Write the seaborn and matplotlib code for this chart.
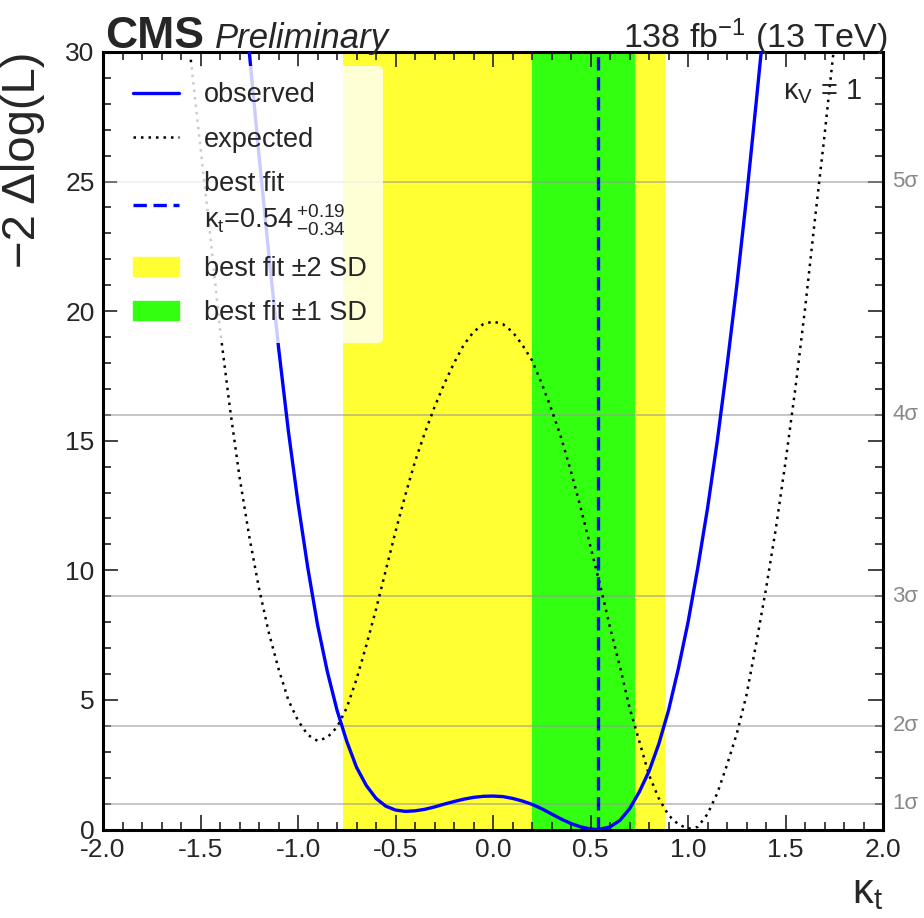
import numpy as np
import pandas as pd
import seaborn as sns
import matplotlib
matplotlib.use("Agg")
import matplotlib.pyplot as plt
from matplotlib.ticker import MultipleLocator, FormatStrFormatter
from matplotlib.lines import Line2D
from matplotlib.patches import Patch

# observed scan
kt_obs = [-1.25, -1.2, -1.15, -1.1, -1.05, -1.0, -0.95, -0.9, -0.85, -0.8,
          -0.75, -0.7, -0.65, -0.6, -0.55, -0.5, -0.45, -0.4, -0.35, -0.3,
          -0.25, -0.2, -0.15, -0.1, -0.05, 0.0, 0.05, 0.1, 0.15, 0.2,
          0.25, 0.3, 0.35, 0.4, 0.45, 0.5, 0.54, 0.6, 0.65, 0.7,
          0.75, 0.8, 0.85, 0.9, 0.95, 1.0, 1.05, 1.1, 1.15, 1.2,
          1.25, 1.3, 1.35, 1.375]
nll_obs = [30.0, 26.0, 22.2, 18.6, 15.4, 12.6, 10.1, 7.9, 6.1, 4.6,
           3.4, 2.4, 1.7, 1.2, 0.9, 0.75, 0.70, 0.72, 0.78, 0.87,
           0.98, 1.08, 1.17, 1.24, 1.28, 1.29, 1.27, 1.2, 1.1, 0.97,
           0.8, 0.6, 0.4, 0.23, 0.1, 0.02, 0.0, 0.1, 0.35, 0.8,
           1.45, 2.25, 3.3, 4.6, 6.2, 8.0, 10.1, 12.4, 15.0, 17.9,
           21.0, 24.4, 28.1, 30.0]

# expected scan
kt_exp = [-1.55, -1.5, -1.45, -1.4, -1.35, -1.3, -1.25, -1.2, -1.15, -1.1,
          -1.05, -1.0, -0.95, -0.9, -0.85, -0.8, -0.75, -0.7, -0.65, -0.6,
          -0.55, -0.5, -0.45, -0.4, -0.35, -0.3, -0.25, -0.2, -0.15, -0.1,
          -0.05, 0.0, 0.05, 0.1, 0.15, 0.2, 0.25, 0.3, 0.35, 0.4,
          0.45, 0.5, 0.55, 0.6, 0.65, 0.7, 0.75, 0.8, 0.85, 0.9,
          0.95, 1.0, 1.05, 1.1, 1.15, 1.2, 1.25, 1.3, 1.35, 1.4,
          1.45, 1.5, 1.55, 1.6, 1.65, 1.7, 1.75]
nll_exp = [29.7, 26.3, 22.9, 19.3, 16.3, 13.6, 11.3, 9.3, 7.6, 6.2,
           5.0, 4.2, 3.65, 3.42, 3.55, 3.95, 4.7, 5.8, 7.1, 8.5,
           10.0, 11.5, 12.9, 14.2, 15.3, 16.3, 17.2, 18.0, 18.7, 19.2,
           19.5, 19.6, 19.5, 19.2, 18.7, 18.1, 17.2, 16.2, 15.1, 13.8,
           12.4, 10.9, 9.4, 7.8, 6.3, 4.7, 3.4, 2.1, 1.2, 0.55,
           0.2, 0.03, 0.1, 0.6, 1.4, 2.5, 3.7, 5.2, 7.2, 9.3,
           11.6, 14.2, 17.0, 20.1, 23.5, 26.8, 30.3]

best_fit = 0.54
err_up = 0.19
err_down = 0.34
band_2sd = [-0.77, 0.88]
sigma_levels = [1, 4, 9, 16, 25]
sigma_labels = ["1σ", "2σ", "3σ", "4σ", "5σ"]

sns.set_style("ticks")
plt.rcParams['font.family'] = ['Liberation Sans', 'DejaVu Sans']
plt.rcParams['mathtext.fontset'] = 'custom'
plt.rcParams['mathtext.rm'] = 'Liberation Sans'
plt.rcParams['mathtext.it'] = 'Liberation Sans:italic'
plt.rcParams['mathtext.bf'] = 'Liberation Sans:bold'
plt.rcParams['axes.unicode_minus'] = False

fig = plt.figure(figsize=(9.24, 9.18), dpi=100)
ax = fig.add_axes([0.1115, 0.0964, 0.8442, 0.847])

# bands
ax.axvspan(band_2sd[0], band_2sd[1], color='#ffff33', lw=0, zorder=0)
ax.axvspan(best_fit - err_down, best_fit + err_up, color='#33ff11', lw=0, zorder=0.5)

# sigma lines
for lvl, lab in zip(sigma_levels, sigma_labels):
    ax.axhline(lvl, color='#999999', lw=1.3, alpha=0.6, zorder=1)
    ax.text(1.012, lvl, lab, transform=ax.get_yaxis_transform(), color='#888888',
            fontsize=16, va='center', ha='left')

df_obs = pd.DataFrame({'kt': kt_obs, 'nll': nll_obs})
df_exp = pd.DataFrame({'kt': kt_exp, 'nll': nll_exp})

sns.lineplot(data=df_exp, x='kt', y='nll', color='black', lw=1.8,
             linestyle=(0, (1, 2.0)), estimator=None, ax=ax, zorder=2)
sns.lineplot(data=df_obs, x='kt', y='nll', color='#0000ff', lw=2.4,
             estimator=None, ax=ax, zorder=3)
ax.axvline(best_fit, color='#0000ff', lw=2.4, linestyle=(0, (4, 2)), zorder=3)

ax.set_xlim(-2, 2)
ax.set_ylim(0, 30)
ax.xaxis.set_major_locator(MultipleLocator(0.5))
ax.xaxis.set_minor_locator(MultipleLocator(0.1))
ax.xaxis.set_major_formatter(FormatStrFormatter('%.1f'))
ax.yaxis.set_major_locator(MultipleLocator(5))
ax.yaxis.set_minor_locator(MultipleLocator(1))
ax.tick_params(which='both', direction='in', top=True, right=True,
               color='#222222', width=1.2, labelsize=19, pad=6)
ax.tick_params(which='major', length=11)
ax.tick_params(which='minor', length=6)
for sp in ax.spines.values():
    sp.set_linewidth(2.2)
    sp.set_color('black')

ax.set_ylabel("−2 Δlog(L)", fontsize=34, loc='top')
ax.yaxis.set_label_coords(-0.075, 1.0)
ax.set_xlabel("κ$_\\mathrm{t}$", fontsize=30, loc='right')
ax.xaxis.set_label_coords(1.0, -0.055)

handles = [Line2D([], [], color='#0000ff', lw=2.4),
           Line2D([], [], color='black', lw=1.8, linestyle=(0, (1, 2.0))),
           Line2D([], [], color='#0000ff', lw=2.4, linestyle=(0, (4, 2))),
           Patch(color='#ffff33'),
           Patch(color='#33ff11')]
bf_label = "best fit\nκ$_\\mathrm{t}$=%.2f$\\,^{+%.2f}_{-%.2f}$" % (best_fit, err_up, err_down)
labels = ["observed", "expected", bf_label, "best fit ±2 SD", "best fit ±1 SD"]
leg = ax.legend(handles, labels, loc='upper left', fontsize=19.5, frameon=True,
                fancybox=True, framealpha=0.8, edgecolor='none', facecolor='white',
                handlelength=1.7, handletextpad=0.9, labelspacing=0.68,
                borderpad=0.62, borderaxespad=0.5)

fig.text(105 / 924, 1 - 48 / 918, "CMS", fontsize=32, fontweight='bold', va='baseline')
fig.text(215 / 924, 1 - 48 / 918, "Preliminary", fontsize=25, fontstyle='italic', va='baseline')
fig.text(888 / 924, 1 - 48 / 918, "138 fb$^{-1}$ (13 TeV)", fontsize=24.5, ha='right', va='baseline')
fig.text(862 / 924, 1 - 92 / 918, "κ$_\\mathrm{V}$ = 1", fontsize=21, ha='right', va='center')

fig.savefig('out.png', dpi=100)
